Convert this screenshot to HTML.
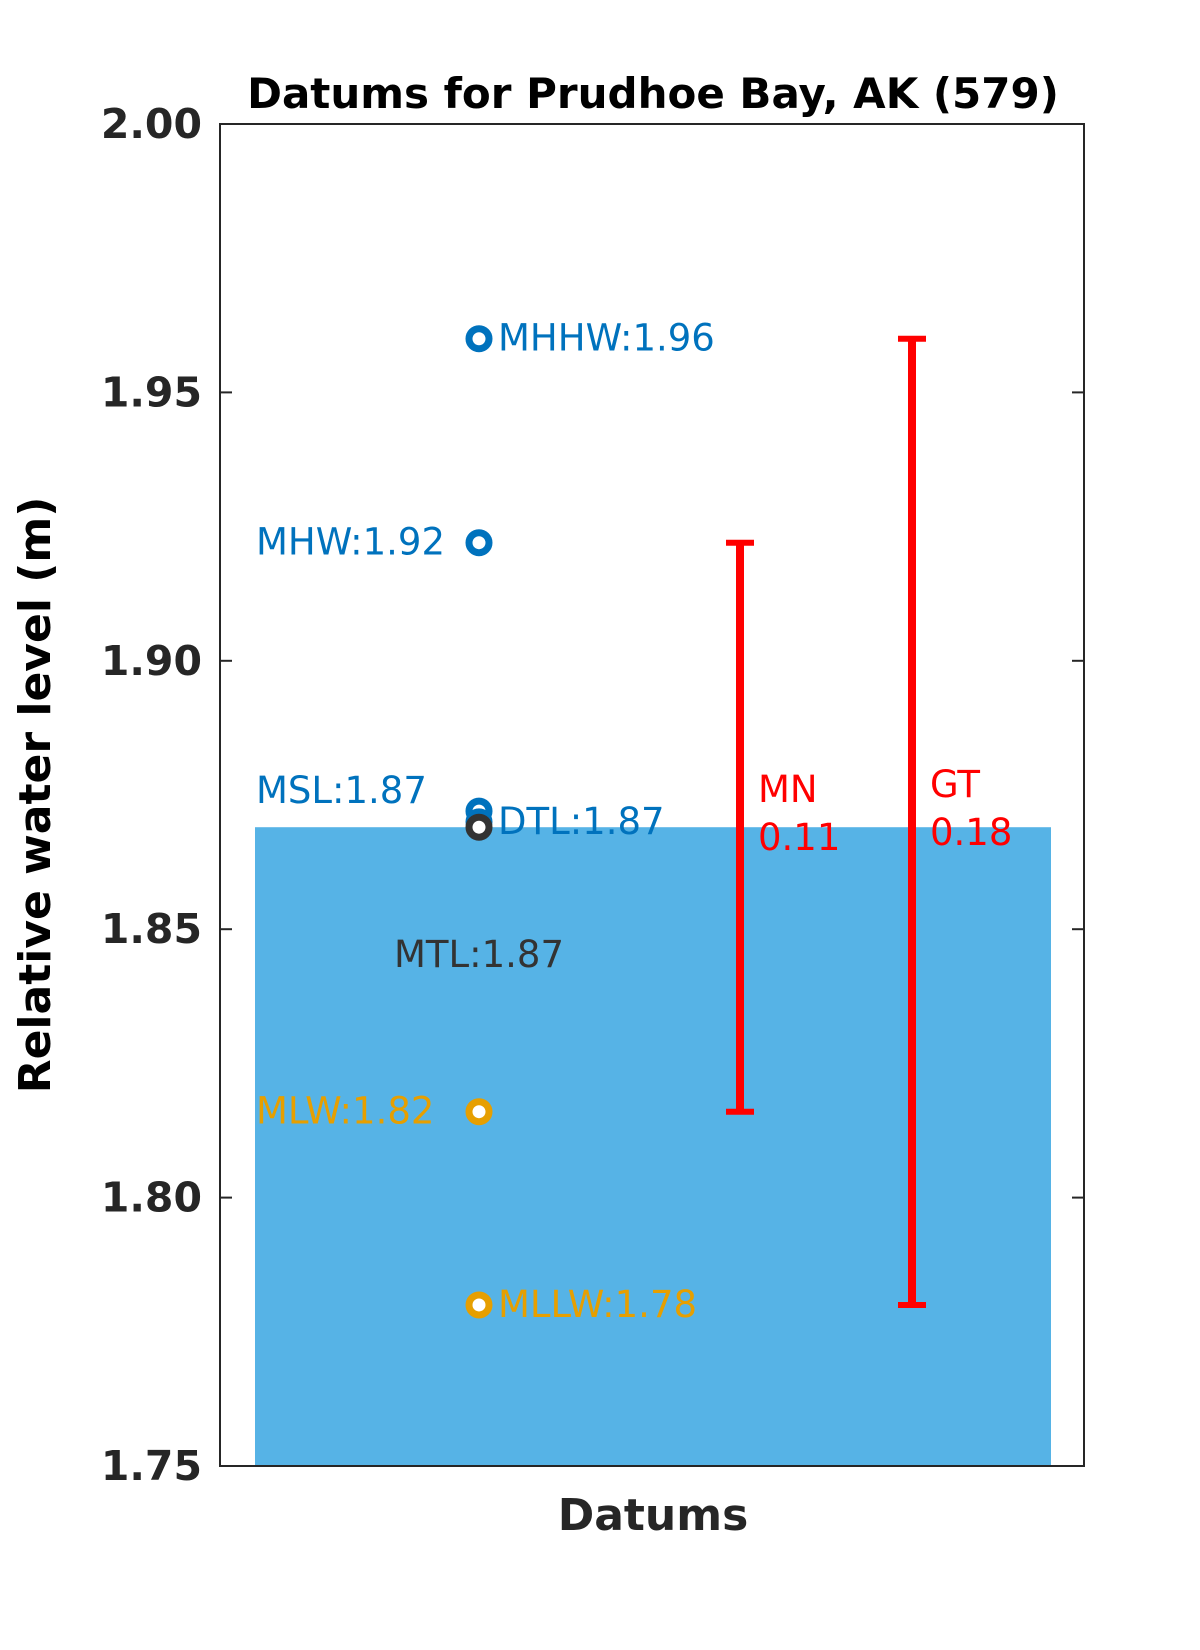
<!DOCTYPE html>
<html><head><meta charset="utf-8"><style>body{margin:0;background:#fff}svg{display:block}text{font-family:"DejaVu Sans","Liberation Sans",sans-serif}</style></head>
<body>
<svg id="chart" width="1200" height="1650" viewBox="0 0 1200 1650" xmlns="http://www.w3.org/2000/svg">
<g id="g"></g>
</svg>
<script>
const datumNames = ["MHHW","MHW","MSL","DTL","MTL","MLW","MLLW"];
const datumValues = [1.960,1.922,1.872,1.870,1.869,1.816,1.780];
const datumLabels = ["MHHW:1.96","MHW:1.92","MSL:1.87","DTL:1.87","MTL:1.87","MLW:1.82","MLLW:1.78"];
const yTicks = [1.75,1.80,1.85,1.90,1.95,2.00];
const yTickLabels = ["1.75","1.80","1.85","1.90","1.95","2.00"];
const barValue = 1.869;
const rangeNames = ["MN","GT"];
const rangeLows = [1.816,1.780];
const rangeHighs = [1.922,1.960];
const rangeLabels = ["0.11","0.18"];

const NS="http://www.w3.org/2000/svg";
const g=document.getElementById('g');
const L=220,R=1084,T=124,B=1466,ymin=1.75,ymax=2.0;
const y=v=>B-(v-ymin)/(ymax-ymin)*(B-T);
function mk(tag,a,parent){const e=document.createElementNS(NS,tag);for(const k in a)e.setAttribute(k,a[k]);(parent||g).appendChild(e);return e;}

// bar
const bar=mk('rect',{x:255,y:y(barValue),width:1051-255,height:B-y(barValue),fill:'#56b3e6'});



// axes box
const box=mk('rect',{x:L,y:T,width:R-L,height:B-T,fill:'none',stroke:'#262626','stroke-width':2});



yTicks.forEach((v,i)=>{
  mk('line',{x1:L,x2:L+12,y1:y(v),y2:y(v),stroke:'#262626','stroke-width':2});
  mk('line',{x1:R-12,x2:R,y1:y(v),y2:y(v),stroke:'#262626','stroke-width':2});
  const t=mk('text',{x:L-18,y:y(v)+14,'text-anchor':'end','font-size':41,'font-weight':'bold',fill:'#262626'});
  t.textContent=yTickLabels[i];
  
  
});

// datum markers
const colors={MHHW:'#0072bd',MHW:'#0072bd',MSL:'#0072bd',DTL:'#0072bd',MTL:'#333333',MLW:'#e69f00',MLLW:'#e69f00'};
const lab={MHHW:[498,'start',12],MHW:[256,'start',12],MSL:[256,'start',-8],DTL:[498,'start',12],MTL:[394,'start',140],MLW:[256,'start',12],MLLW:[498,'start',12]};
const mx=479;
datumNames.forEach((n,i)=>{
  const c=mk('circle',{cx:mx,cy:y(datumValues[i]),r:10,fill:'#fff',stroke:colors[n],'stroke-width':7});
  
  
  const p=lab[n];
  const t=mk('text',{x:p[0],y:y(datumValues[i])+p[2],'text-anchor':p[1],'font-size':37,fill:colors[n]});
  t.textContent=datumLabels[i];
  
  
});

// range bars
const rx=[740,912],lx=[758,930],ly=[0,-5];
rangeNames.forEach((n,i)=>{
  const x=rx[i],a=y(rangeHighs[i]),b=y(rangeLows[i]);
  const grp=mk('g',{});
  
  
  mk('line',{x1:x,x2:x,y1:a,y2:b,stroke:'#ff0000','stroke-width':8},grp);
  mk('line',{x1:x-14,x2:x+14,y1:a,y2:a,stroke:'#ff0000','stroke-width':6},grp);
  mk('line',{x1:x-14,x2:x+14,y1:b,y2:b,stroke:'#ff0000','stroke-width':6},grp);
  const cy=(a+b)/2;
  const t1=mk('text',{x:lx[i],y:802+ly[i],'font-size':37,fill:'#ff0000'});t1.textContent=n;
  
  
  const t2=mk('text',{x:lx[i],y:850+ly[i],'font-size':37,fill:'#ff0000'});t2.textContent=rangeLabels[i];
  
  
});

const title=mk('text',{x:653,y:108,'text-anchor':'middle','font-size':42,'font-weight':'bold',fill:'#000'});
title.textContent='Datums for Prudhoe Bay, AK (579)';


const xl=mk('text',{x:653,y:1530,'text-anchor':'middle','font-size':44,'font-weight':'bold',fill:'#262626'});
xl.textContent='Datums';


const yl=mk('text',{x:0,y:0,'text-anchor':'middle','font-size':44,'font-weight':'bold',fill:'#000',transform:'translate(50,795) rotate(-90)'});
yl.textContent='Relative water level (m)';


</script>
</body></html>
